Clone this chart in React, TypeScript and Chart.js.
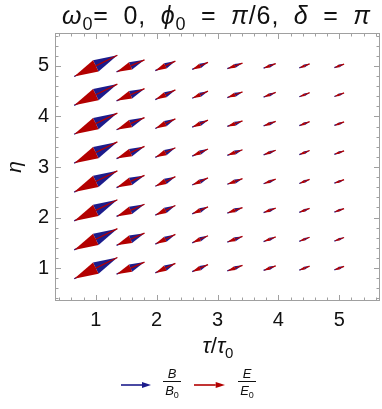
import React, { useEffect, useRef } from 'react';
import { Chart, registerables } from 'chart.js';

Chart.register(...registerables);

// grid of sample points
const TAUS = [1, 1.571, 2.143, 2.714, 3.286, 3.857, 4.429, 5];
const ETAS = [1, 1.571, 2.143, 2.714, 3.286, 3.857, 4.429, 5];
// arrow extent (data units) per tau column
const ARROW_DX = [0.71, 0.46, 0.33, 0.26, 0.25, 0.2, 0.17, 0.16];
const ARROW_DY = [0.42, 0.24, 0.19, 0.14, 0.11, 0.09, 0.08, 0.07];
const X_TICKS = [1, 2, 3, 4, 5];
const Y_TICKS = [1, 2, 3, 4, 5];
const X_RANGE = [0.33, 5.67];
const Y_RANGE = [0.35, 5.65];

const BLUE = '#1c1c8c';
const RED = '#b30000';
const FRAME = '#a0a0a0';
const TEXT = '#111';
const FONT = '"Liberation Sans", Arial, sans-serif';

function drawArrow(ctx: CanvasRenderingContext2D, x1: number, y1: number, x2: number, y2: number, color: string, headFrac: number, widthFrac: number, lw: number) {
  const dx = x2 - x1, dy = y2 - y1;
  const L = Math.hypot(dx, dy);
  if (L < 0.5) return;
  const ux = dx / L, uy = dy / L;
  const hl = L * headFrac, hw = L * widthFrac;
  const bx = x2 - ux * hl, by = y2 - uy * hl;
  ctx.strokeStyle = color;
  ctx.fillStyle = color;
  ctx.lineWidth = lw;
  ctx.beginPath();
  ctx.moveTo(x1, y1);
  ctx.lineTo(bx, by);
  ctx.stroke();
  ctx.beginPath();
  ctx.moveTo(x2, y2);
  ctx.lineTo(bx - uy * hw, by + ux * hw);
  ctx.lineTo(bx + uy * hw, by - ux * hw);
  ctx.closePath();
  ctx.fill();
}

type Seg = { t: string; it?: boolean; sub?: boolean };

// draws a run of styled segments centred on cx; optional target width spreads spacing
function drawSegs(ctx: CanvasRenderingContext2D, segs: Seg[], cx: number, baseline: number, size: number, targetWidth?: number) {
  const fontFor = (s: Seg) => `${s.it ? 'italic ' : ''}${s.sub ? Math.round(size * 0.7) : size}px ${FONT}`;
  const chars: { c: string; s: Seg; w: number }[] = [];
  for (const s of segs) {
    ctx.font = fontFor(s);
    for (const c of Array.from(s.t)) chars.push({ c, s, w: ctx.measureText(c).width });
  }
  const natural = chars.reduce((a, b) => a + b.w, 0);
  const nSpaces = chars.filter((c) => c.c === ' ').length;
  let letterSp = 0, spaceExtra = 0;
  if (targetWidth && targetWidth > natural) {
    const extra = targetWidth - natural;
    const nGaps = chars.length - 1;
    letterSp = (extra * 0.3) / nGaps;
    spaceExtra = nSpaces ? (extra * 0.7) / nSpaces : 0;
  }
  const total = natural + letterSp * (chars.length - 1) + spaceExtra * nSpaces;
  let x = cx - total / 2;
  ctx.textAlign = 'left';
  ctx.textBaseline = 'alphabetic';
  ctx.fillStyle = TEXT;
  for (const ch of chars) {
    ctx.font = fontFor(ch.s);
    ctx.fillText(ch.c, x, baseline + (ch.s.sub ? size * 0.22 : 0));
    x += ch.w + letterSp + (ch.c === ' ' ? spaceExtra : 0);
  }
}

const overlay = {
  id: 'overlay',
  afterDatasetsDraw(chart: any) {
    const ctx: CanvasRenderingContext2D = chart.ctx;
    const xs = chart.scales.x, ys = chart.scales.y;
    const { left, right, top, bottom } = chart.chartArea;
    ctx.save();
    ctx.beginPath();
    ctx.rect(left, top, right - left, bottom - top);
    ctx.clip();
    for (let j = 0; j < ETAS.length; j++) {
      for (let i = 0; i < TAUS.length; i++) {
        const ax = xs.getPixelForValue(TAUS[i] - ARROW_DX[i] / 2);
        const ay = ys.getPixelForValue(ETAS[j] - ARROW_DY[i] / 2);
        const bx = xs.getPixelForValue(TAUS[i] + ARROW_DX[i] / 2);
        const by = ys.getPixelForValue(ETAS[j] + ARROW_DY[i] / 2);
        drawArrow(ctx, ax, ay, bx, by, BLUE, 0.5, 0.13, 1.3);
        drawArrow(ctx, bx, by, ax, ay, RED, 0.5, 0.13, 1.3);
      }
    }
    ctx.restore();
  },
  afterDraw(chart: any) {
    const ctx: CanvasRenderingContext2D = chart.ctx;
    const xs = chart.scales.x, ys = chart.scales.y;
    const { left, right, top, bottom } = chart.chartArea;
    ctx.save();
    // frame
    ctx.strokeStyle = FRAME;
    ctx.lineWidth = 1;
    ctx.strokeRect(left + 0.5, top + 0.5, right - left - 1, bottom - top - 1);
    // ticks
    ctx.beginPath();
    for (let k = 0; k <= 60; k++) {
      const v = Math.round(k * 0.2 * 10) / 10;
      const major = Math.abs(v - Math.round(v)) < 1e-6;
      const len = major ? 6 : 3.5;
      if (v >= X_RANGE[0] && v <= X_RANGE[1]) {
        const px = Math.round(xs.getPixelForValue(v)) + 0.5;
        ctx.moveTo(px, bottom); ctx.lineTo(px, bottom - len);
        ctx.moveTo(px, top); ctx.lineTo(px, top + len);
      }
      if (v >= Y_RANGE[0] && v <= Y_RANGE[1]) {
        const py = Math.round(ys.getPixelForValue(v)) + 0.5;
        ctx.moveTo(left, py); ctx.lineTo(left + len, py);
        ctx.moveTo(right, py); ctx.lineTo(right - len, py);
      }
    }
    ctx.stroke();

    // title
    drawSegs(ctx, [
      { t: 'ω', it: true }, { t: '0', sub: true }, { t: '= 0, ' },
      { t: 'ϕ', it: true }, { t: '0', sub: true }, { t: ' = ' },
      { t: 'π', it: true }, { t: '/6, ' },
      { t: 'δ', it: true }, { t: ' = ' }, { t: 'π', it: true },
    ], 216, 24, 25, 308);
    // x title
    drawSegs(ctx, [{ t: 'τ', it: true }, { t: '/' }, { t: 'τ', it: true }, { t: '0', sub: true }], 218, 353, 22);
    // y title
    ctx.save();
    ctx.translate(21, (top + bottom) / 2);
    ctx.rotate(-Math.PI / 2);
    drawSegs(ctx, [{ t: 'η', it: true }], 0, 0, 21);
    ctx.restore();

    // legend
    const ly = 385;
    drawArrow(ctx, 121, ly, 151, ly, BLUE, 0.3, 0.1, 1.6);
    drawArrow(ctx, 194, ly, 225, ly, RED, 0.3, 0.1, 1.6);
    const frac = (cx: number, a: string) => {
      ctx.font = `italic 13px ${FONT}`;
      ctx.textAlign = 'center';
      ctx.textBaseline = 'alphabetic';
      ctx.fillStyle = TEXT;
      ctx.fillText(a, cx, 378);
      const w = 18;
      ctx.strokeStyle = TEXT;
      ctx.lineWidth = 1;
      ctx.beginPath();
      ctx.moveTo(cx - w / 2, 381.5); ctx.lineTo(cx + w / 2, 381.5);
      ctx.stroke();
      drawSegs(ctx, [{ t: a, it: true }, { t: '0', sub: true }], cx, 395, 13);
    };
    frac(172, 'B');
    frac(247, 'E');
    ctx.restore();
  },
};

export default function App() {
  const ref = useRef<HTMLCanvasElement>(null);
  useEffect(() => {
    document.body.style.margin = '0';
    const points: { x: number; y: number }[] = [];
    for (const e of ETAS) for (const t of TAUS) points.push({ x: t, y: e });
    const chart = new Chart(ref.current!, {
      type: 'scatter',
      data: { datasets: [{ data: points, pointRadius: 0, showLine: false }] },
      options: {
        responsive: false,
        animation: false,
        devicePixelRatio: 1,
        layout: { padding: { top: 33, right: 2, left: 0, bottom: 0 } },
        plugins: { legend: { display: false }, tooltip: { enabled: false }, title: { display: false } },
        scales: {
          x: {
            type: 'linear', min: X_RANGE[0], max: X_RANGE[1],
            grid: { display: false, drawTicks: false, tickLength: 0 }, border: { display: false },
            afterBuildTicks: (s: any) => { s.ticks = X_TICKS.map((v) => ({ value: v })); },
            afterFit: (s: any) => { s.height = 108; },
            ticks: { color: TEXT, padding: 7, font: { family: FONT, size: 20 }, maxRotation: 0, callback: (v: any) => String(v) },
          },
          y: {
            type: 'linear', min: Y_RANGE[0], max: Y_RANGE[1],
            grid: { display: false, drawTicks: false, tickLength: 0 }, border: { display: false },
            afterBuildTicks: (s: any) => { s.ticks = Y_TICKS.map((v) => ({ value: v })); },
            afterFit: (s: any) => { s.width = 55; },
            ticks: { color: TEXT, padding: 6, font: { family: FONT, size: 20 }, callback: (v: any) => String(v) },
          },
        },
      },
      plugins: [overlay],
    });
    return () => chart.destroy();
  }, []);
  return (
    <div style={{ position: 'fixed', left: 0, top: 0, width: 382, height: 409, background: '#fff' }}>
      <canvas ref={ref} width={382} height={409} />
    </div>
  );
}
